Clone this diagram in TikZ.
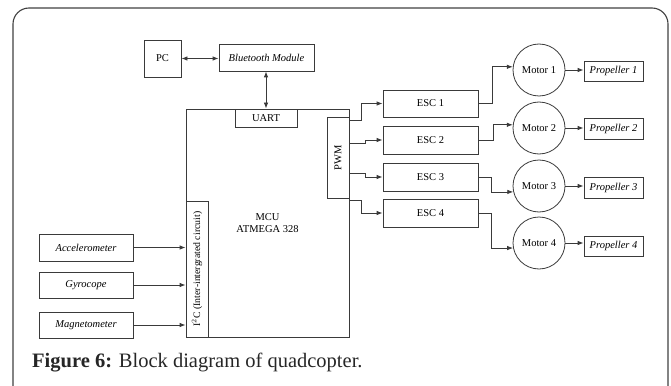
\documentclass[tikz,border=0pt]{standalone}
\usepackage{fontspec}
\setmainfont{Liberation Serif}
\usetikzlibrary{arrows.meta,calc}
\definecolor{linec}{HTML}{3A3A3A}
\definecolor{framec}{HTML}{404040}
\tikzset{
  box/.style={draw=linec, line width=0.8pt, inner sep=0pt, align=center, font=\fontsize{10.5}{12}\selectfont},
  itbox/.style={box, font=\fontsize{10.5}{12}\selectfont\itshape},
  motorc/.style={draw=linec, line width=0.8pt, circle, minimum size=52pt, inner sep=0pt, font=\fontsize{10.5}{12}\selectfont},
  arr/.style={draw=linec, line width=0.8pt, -{Latex[length=6pt,width=4.5pt]}},
  darr/.style={draw=linec, line width=0.8pt, {Latex[length=6pt,width=4.5pt]}-{Latex[length=6pt,width=4.5pt]}}
}
\begin{document}
\begin{tikzpicture}[x=1pt,y=-1pt]
\useasboundingbox (0,0) rectangle (671,385);
% frame
\draw[framec, line width=1.1pt, rounded corners=16pt] (13,392) -- (13,8) -- (668,8) -- (668,392);
% MCU
\node[box, minimum width=163pt, minimum height=228pt, font=\fontsize{10.5}{12.5}\selectfont] (mcu) at (267.5,223) {MCU\\ATMEGA 328};
\node[box, fill=white, minimum width=62pt, minimum height=18pt] (uart) at (266,118) {UART};
\node[box, fill=white, minimum width=22pt, minimum height=81pt] (pwm) at (338,157.5) {};
\node[rotate=90, font=\fontsize{10.5}{12}\selectfont] (pwmt) at (pwm.center) {PWM};
\node[box, fill=white, minimum width=22pt, minimum height=136pt] (i2c) at (197,269) {};
\node[rotate=90, font=\fontsize{9.8}{11}\selectfont] (i2ct) at (i2c.center) {I$^2$C (Inter-intergrated circuit)};
% top
\node[box, minimum width=37pt, minimum height=37pt] (pc) at (162.5,58.5) {PC};
\node[itbox, minimum width=95pt, minimum height=27pt] (bt) at (266.5,57.5) {Bluetooth Module};
\draw[darr] (pc.east) -- (pc.east -| bt.west);
\draw[darr] (bt.south -| uart.north) -- (uart.north);
% sensors
\node[itbox, minimum width=94pt, minimum height=27pt] (acc) at (86,247.5) {Accelerometer};
\node[itbox, minimum width=94pt, minimum height=26pt] (gyr) at (86,285) {Gyrocope};
\node[itbox, minimum width=94pt, minimum height=26pt] (mag) at (86,325) {Magnetometer};
\draw[arr] (acc.east) -- (acc.east -| i2c.west);
\draw[arr] (gyr.east) -- (gyr.east -| i2c.west);
\draw[arr] (mag.east) -- (mag.east -| i2c.west);
% ESCs
\node[box, minimum width=95pt, minimum height=27pt] (e1) at (430.5,103.5) {ESC 1};
\node[box, minimum width=95pt, minimum height=28pt] (e2) at (430.5,140) {ESC 2};
\node[box, minimum width=95pt, minimum height=28pt] (e3) at (430.5,177) {ESC 3};
\node[box, minimum width=95pt, minimum height=28pt] (e4) at (430.5,213) {ESC 4};
\coordinate (o1) at (349,120);
\coordinate (o2) at (349,143);
\coordinate (o3) at (349,173);
\coordinate (o4) at (349,200);
\draw[arr] (o1) -- ++(12,0) |- (e1.west);
\draw[arr] (o2) -- ++(16,0) |- (e2.west);
\draw[arr] (o3) -- ++(16,0) |- (e3.west);
\draw[arr] (o4) -- ++(12,0) |- (e4.west);
% motors
\node[motorc] (m1) at (539,70) {Motor 1};
\node[motorc] (m2) at (539,128) {Motor 2};
\node[motorc] (m3) at (539,186) {Motor 3};
\node[motorc] (m4) at (539,243) {Motor 4};
\draw[arr] (e1.east) -- ++(14,0) |- (m1.173);
\draw[arr] (e2.east) -- ++(15,0) |- (m2.173);
\draw[arr] (e3.east) -- ++(13,0) |- (m3.193);
\draw[arr] (e4.east) -- ++(13,0) |- (m4.191);
% propellers
\node[itbox, minimum width=59pt, minimum height=20pt] (p1) at (613.5,71) {Propeller 1};
\node[itbox, minimum width=59pt, minimum height=21pt] (p2) at (613.5,128.5) {Propeller 2};
\node[itbox, minimum width=59pt, minimum height=21pt] (p3) at (613.5,187.5) {Propeller 3};
\node[itbox, minimum width=59pt, minimum height=20pt] (p4) at (613.5,246) {Propeller 4};
\draw[arr] (m1.east) -- (m1.east -| p1.west);
\draw[arr] (m2.east) -- (m2.east -| p2.west);
\draw[arr] (m3.east) -- (m3.east -| p3.west);
\draw[arr] (m4.east) -- (m4.east -| p4.west);
% caption
\node[anchor=base west, inner sep=0pt, font=\fontsize{20.5}{24}\selectfont, text=black!85] (cap) at (32,367) {\textbf{Figure 6:} Block diagram of quadcopter.};
\end{tikzpicture}
\end{document}
